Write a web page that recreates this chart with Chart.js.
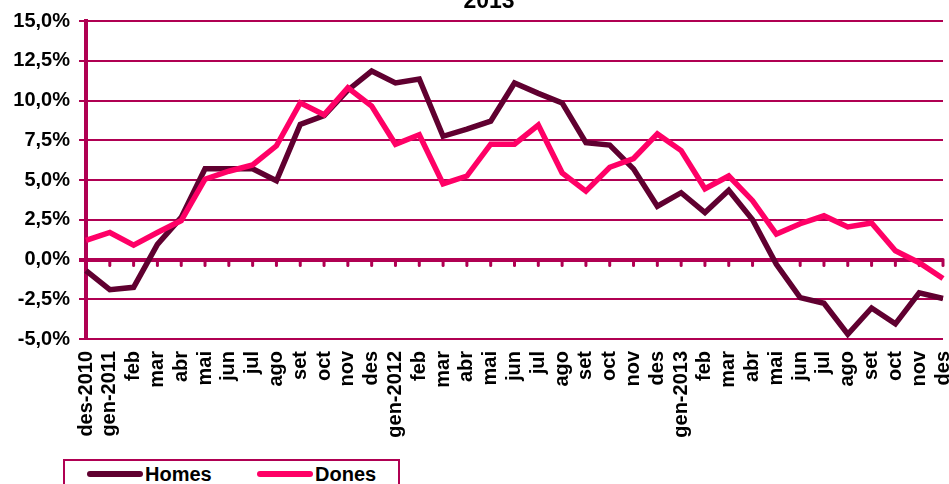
<!DOCTYPE html>
<html>
<head>
<meta charset="utf-8">
<script src="https://cdn.jsdelivr.net/npm/chart.js@4"></script>
<style>
  body { margin: 0; background: #fff; }
  #wrap { position: relative; width: 949px; height: 484px; overflow: hidden; }
  #legend {
    position: absolute; left: 63px; top: 459px; width: 333px; height: 40px;
    border: 2px solid #B00052; background: #fff;
    font: bold 20px "Liberation Sans", Arial, sans-serif; color: #000;
  }
  #legend .ln { position: absolute; top: 10px; height: 6px; width: 56px; border-radius: 3px; }
  #legend .tx { position: absolute; top: 2px; }
</style>
</head>
<body>
<div id="wrap">
  <canvas id="chart" width="949" height="484"></canvas>
  <div id="legend">
    <span class="ln" style="left:22px;background:#600030"></span>
    <span class="tx" style="left:80px">Homes</span>
    <span class="ln" style="left:192px;background:#FF0066"></span>
    <span class="tx" style="left:250px">Dones</span>
  </div>
</div>
<script>
// Dades del gràfic
const mesos = ['des-2010', 'gen-2011', 'feb', 'mar', 'abr', 'mai', 'jun', 'jul', 'ago', 'set', 'oct', 'nov',
    'des', 'gen-2012', 'feb', 'mar', 'abr', 'mai', 'jun', 'jul', 'ago', 'set', 'oct', 'nov',
    'des', 'gen-2013', 'feb', 'mar', 'abr', 'mai', 'jun', 'jul', 'ago', 'set', 'oct', 'nov', 'des'];
const homes = [-0.7, -1.9, -1.75, 0.95, 2.65, 5.7, 5.7, 5.7, 4.95, 8.5, 9.05, 10.65,
    11.85, 11.1, 11.35, 7.75, 8.2, 8.7, 11.1, 10.45, 9.85, 7.35, 7.2, 5.7,
    3.35, 4.2, 2.95, 4.35, 2.5, -0.3, -2.4, -2.75, -4.7, -3.05, -4.05, -2.1, -2.45];
const dones = [1.2, 1.7, 0.9, 1.7, 2.45, 5.05, 5.55, 5.95, 7.15, 9.85, 9.1, 10.8,
    9.65, 7.25, 7.85, 4.75, 5.25, 7.25, 7.25, 8.45, 5.45, 4.3, 5.8, 6.35,
    7.9, 6.85, 4.45, 5.25, 3.7, 1.6, 2.25, 2.75, 2.05, 2.3, 0.55, -0.2, -1.2];
const titol = '2013';

const granat = '#B00052';
const font = '"Liberation Sans", Arial, sans-serif';

// Títol (retallat a dalt com a l'original)
const titolPlugin = {
    id: 'titol',
    afterDraw(chart) {
        const ctx = chart.ctx;
        ctx.save();
        ctx.font = 'bold 23px ' + font;
        ctx.fillStyle = '#000';
        ctx.textAlign = 'center';
        ctx.textBaseline = 'alphabetic';
        ctx.fillText(titol, 489, 8);
        ctx.restore();
    }
};

// Marques de l'eix de categories sobre la línia del 0
const marquesZero = {
    id: 'marquesZero',
    beforeDatasetsDraw(chart) {
        const ctx = chart.ctx;
        const x = chart.scales.x, y = chart.scales.y;
        const y0 = y.getPixelForValue(0);
        ctx.save();
        ctx.strokeStyle = granat;
        ctx.lineWidth = 3;
        ctx.lineCap = 'round';
        mesos.forEach(function(m, i) {
            const px = x.getPixelForValue(i);
            ctx.beginPath();
            ctx.moveTo(px, y0);
            ctx.lineTo(px, y0 + 6);
            ctx.stroke();
        });
        ctx.restore();
    }
};

new Chart(document.getElementById('chart'), {
    type: 'line',
    data: {
        labels: mesos,
        datasets: [{
            label: 'Homes',
            data: homes,
            borderColor: '#600030',
            backgroundColor: '#600030',
            borderWidth: 5.5,
            pointRadius: 0,
            order: 1
        }, {
            label: 'Dones',
            data: dones,
            borderColor: '#FF0066',
            backgroundColor: '#FF0066',
            borderWidth: 5.5,
            pointRadius: 0,
            order: 0
        }]
    },
    options: {
        responsive: false,
        animation: false,
        layout: { padding: { left: 0, right: 6, top: 20, bottom: 0 } },
        plugins: { legend: { display: false }, tooltip: { enabled: false } },
        scales: {
            x: {
                offset: false,
                grid: { display: false, drawTicks: false },
                border: { display: false },
                ticks: {
                    autoSkip: false,
                    minRotation: 90,
                    maxRotation: 90,
                    padding: 12,
                    color: '#000',
                    font: { family: font, size: 20, weight: 'bold' }
                },
                afterFit(scale) {
                    scale.height = 145;
                    scale.paddingLeft = 0;
                    scale.paddingRight = 0;
                }
            },
            y: {
                min: -5,
                max: 15,
                ticks: {
                    stepSize: 2.5,
                    padding: 9,
                    color: '#000',
                    font: { family: font, size: 20, weight: 'bold' },
                    callback: function(v) { return v.toFixed(1).replace('.', ',') + '%'; }
                },
                grid: {
                    color: granat,
                    tickColor: granat,
                    tickLength: 7,
                    lineWidth: function(c) { return c.tick && c.tick.value === 0 ? 4 : 2; }
                },
                border: { display: true, color: granat, width: 4 },
                afterFit(scale) {
                    scale.width = 86;
                }
            }
        }
    },
    plugins: [titolPlugin, marquesZero]
});
</script>
</body>
</html>
